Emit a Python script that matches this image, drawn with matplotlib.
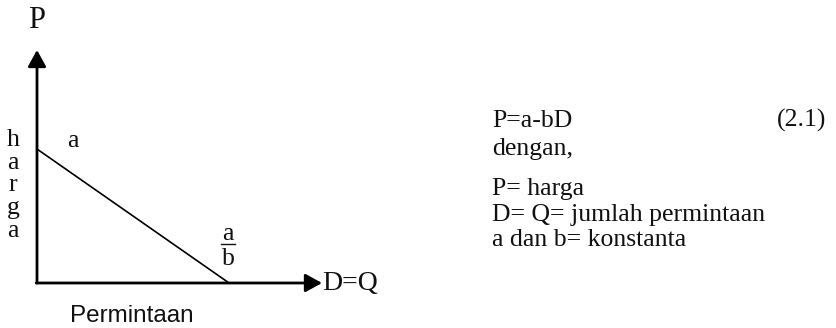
import matplotlib
matplotlib.use("Agg")
import matplotlib.pyplot as plt

# Linear demand model P = a - bD
a = 1.0            # price intercept
b = 1.0            # slope
q_max = 1.484      # extent of the quantity axis
p_max = 1.739      # extent of the price axis

quantity = [0.0, a / b]
price = [a - b * q for q in quantity]

definitions = [
    "P= harga",
    "D= Q= jumlah permintaan",
    "a dan b= konstanta",
]

W, H = 836, 328
fig = plt.figure(figsize=(W / 100, H / 100), dpi=100)

# overlay in pixel coordinates for free text
txt = fig.add_axes([0, 0, 1, 1])
txt.set_xlim(0, W)
txt.set_ylim(H, 0)
txt.axis("off")

# diagram axes: origin at lower-left corner
x0, y0, x1, y1 = 37, 283, 322, 50
ax = fig.add_axes([x0 / W, (H - y0) / H, (x1 - x0) / W, (y0 - y1) / H])
ax.set_xlim(0, q_max)
ax.set_ylim(0, p_max)
ax.axis("off")

arrow = dict(arrowstyle="-|>,head_length=1.0,head_width=0.55", lw=2.0,
             color="black", shrinkA=0, shrinkB=0, mutation_scale=10)
ax.annotate("", xy=(0, p_max), xytext=(0, 0), arrowprops=arrow,
            annotation_clip=False)
ax.annotate("", xy=(q_max, 0), xytext=(-0.004, 0), arrowprops=arrow,
            annotation_clip=False)

ax.plot(quantity, price, color="black", lw=1.2, clip_on=False)

serif = "Liberation Serif"
sans = "Liberation Sans"
ink = "#111111"
fs = 18.5

# axis titles
txt.text(37, 28, "P", fontsize=22, family=serif, color=ink, ha="center", va="baseline")
txt.text(322, 290, "D=Q", fontsize=20, family=serif, color=ink, ha="left", va="baseline")
txt.text(132, 322, "Permintaan", fontsize=17.5, family=sans, color=ink,
         ha="center", va="baseline")
for i, ch in enumerate("harga"):
    txt.text(13, 146 + i * 22.7, ch, fontsize=fs, family=serif, color=ink,
             ha="center", va="baseline")

# intercept labels
txt.text(73, 147, "a", fontsize=fs, family=serif, color=ink, ha="center", va="baseline")
txt.text(228, 240, "a", fontsize=fs, family=serif, color=ink, ha="center", va="baseline")
txt.plot([221, 235], [243.5, 243.5], color=ink, lw=1.0)
txt.text(228, 265, "b", fontsize=fs, family=serif, color=ink, ha="center", va="baseline")

# equation and definitions
txt.text(492, 127, "P=a-bD", fontsize=fs, family=serif, color=ink, ha="left", va="baseline")
txt.text(826, 127, "(2.1)", fontsize=fs, family=serif, color=ink, ha="right", va="baseline")
txt.text(492, 155, "dengan,", fontsize=fs, family=serif, color=ink, ha="left", va="baseline")
for i, line in enumerate(definitions):
    txt.text(492, 195 + i * 25.5, line, fontsize=fs, family=serif, color=ink,
             ha="left", va="baseline")

fig.savefig("out.png", dpi=100, facecolor="white")
